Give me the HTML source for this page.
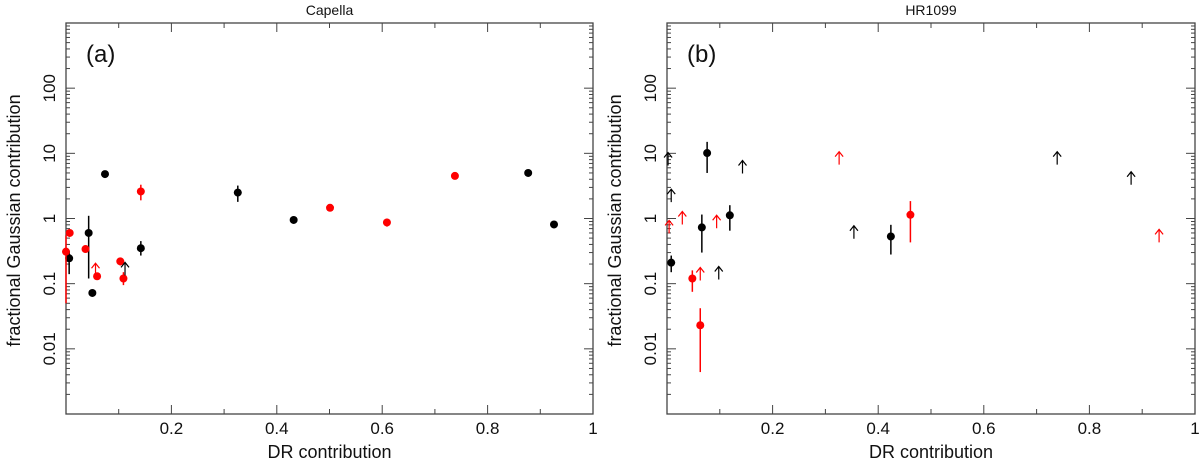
<!DOCTYPE html>
<html><head><meta charset="utf-8"><style>
html,body{margin:0;padding:0;background:#fff;}
svg{display:block;font-family:"Liberation Sans",Arial,sans-serif;}
</style></head><body>
<svg id="chart" width="1200" height="463" viewBox="0 0 1200 463"></svg>
<script>
// Panel (a) Capella
const capBlackX=[0.006,0.043,0.050,0.074,0.142,0.326,0.432,0.877,0.926];
const capBlackY=[0.245,0.6,0.072,4.8,0.35,2.5,0.95,5.0,0.81];
const capBlackLo=[0.14,0.12,0.072,4.8,0.27,1.8,0.95,5.0,0.81];
const capBlackHi=[0.32,1.1,0.072,4.8,0.45,3.2,0.95,5.0,0.81];
const capRedX=[0.0,0.007,0.037,0.059,0.103,0.109,0.142,0.501,0.609,0.738];
const capRedY=[0.31,0.6,0.34,0.13,0.22,0.12,2.6,1.46,0.87,4.5];
const capRedLo=[0.05,0.6,0.30,0.13,0.19,0.095,1.9,1.46,0.75,4.5];
const capRedHi=[0.55,0.6,0.38,0.13,0.25,0.15,3.3,1.46,1.0,4.5];
const capBlackArrX=[0.112];
const capBlackArrY=[0.134];
const capRedArrX=[0.056];
const capRedArrY=[0.13];
// Panel (b) HR1099
const hrBlackX=[0.008,0.066,0.076,0.119,0.424];
const hrBlackY=[0.21,0.73,10.1,1.12,0.53];
const hrBlackLo=[0.15,0.3,5,0.65,0.28];
const hrBlackHi=[0.27,1.15,15,1.6,0.8];
const hrRedX=[0.048,0.063,0.461];
const hrRedY=[0.12,0.023,1.14];
const hrRedLo=[0.075,0.0044,0.43];
const hrRedHi=[0.16,0.042,1.85];
const hrBlackArrX=[0.002,0.008,0.143,0.098,0.354,0.739,0.879];
const hrBlackArrY=[6.5,1.78,4.9,0.116,0.49,6.7,3.3];
const hrRedArrX=[0.004,0.029,0.094,0.063,0.326,0.932];
const hrRedArrY=[0.59,0.81,0.71,0.112,6.7,0.43];
const xTicks=[0.2,0.4,0.6,0.8,1];
const xTickLabels=["0.2","0.4","0.6","0.8","1"];
const yTicks=[0.01,0.1,1,10,100];
const yTickLabels=["0.01","0.1","1","10","100"];

const NS="http://www.w3.org/2000/svg";
const svg=document.getElementById('chart');
function mk(tag,attrs,parent,text){const e=document.createElementNS(NS,tag);for(const k in attrs)e.setAttribute(k,attrs[k]);if(text!==undefined)e.textContent=text;(parent||svg).appendChild(e);return e;}
const TOP=23,BOT=414;
function panel(x0,x1,title,label,d){
  const g=mk('g',{});
  
  
  const sx=v=>x0+v*(x1-x0);
  const sy=v=>BOT-(Math.log10(v)+3)/6*(BOT-TOP);
  const fr=mk('rect',{x:x0,y:TOP,width:x1-x0,height:BOT-TOP,fill:'none',stroke:'#444','stroke-width':1.3},g);
  
  
  const tk=mk('g',{stroke:'#444','stroke-width':1},g);
  
  
  for(let i=1;i<10;i++){const v=i/10,x=sx(v),L=(i%2==0)?9:5;
    mk('line',{x1:x,y1:BOT,x2:x,y2:BOT-L},tk);mk('line',{x1:x,y1:TOP,x2:x,y2:TOP+L},tk);}
  for(let e=-3;e<3;e++){for(let m=1;m<10;m++){const v=m*Math.pow(10,e),y=sy(v),L=m==1?9:4;
    if(m==1&&e==-3)continue;
    mk('line',{x1:x0,y1:y,x2:x0+L,y2:y},tk);mk('line',{x1:x1,y1:y,x2:x1-L,y2:y},tk);}}
  xTicks.forEach((v,i)=>{const t=mk('text',{x:sx(v),y:434,'font-size':17,'text-anchor':'middle',fill:'#111'},g,xTickLabels[i]);
    
    });
  yTicks.forEach((v,i)=>{const y=sy(v);const t=mk('text',{x:0,y:0,'font-size':17,'text-anchor':'middle',fill:'#111',transform:`translate(${x0-11},${y}) rotate(-90)`},g,yTickLabels[i]);
    
    });
  const xt=mk('text',{x:(x0+x1)/2,y:458,'font-size':18,'text-anchor':'middle',fill:'#111'},g,'DR contribution');
  
  
  const yt=mk('text',{x:0,y:0,'font-size':18,'text-anchor':'middle',fill:'#111',transform:`translate(${x0-46},${(TOP+BOT)/2+2}) rotate(-90)`},g,'fractional Gaussian contribution');
  
  
  const tt=mk('text',{x:(x0+x1)/2,y:15,'font-size':14,'text-anchor':'middle',fill:'#111'},g,title);
  
  
  const pl=mk('text',{x:x0+20,y:62,'font-size':24,fill:'#111'},g,label);
  
  
  function pts(X,Y,Lo,Hi,col,name){X.forEach((v,i)=>{const x=sx(v);
    const e=mk('line',{x1:x,y1:sy(Lo[i]),x2:x,y2:sy(Hi[i]),stroke:col,'stroke-width':1.5},g);
    
    
    const c=mk('circle',{cx:x,cy:sy(Y[i]),r:4,fill:col},g);
    
    });}
  function arr(X,Y,col,name){X.forEach((v,i)=>{const x=sx(v),y=sy(Y[i]);
    const a=mk('path',{d:`M${x},${y} L${x},${y-13} M${x-4},${y-8} L${x},${y-13} L${x+4},${y-8}`,stroke:col,'stroke-width':1.2,fill:'none'},g);
    
    });}
  pts(d.bx,d.by,d.blo,d.bhi,'#000','black');
  pts(d.rx,d.ry,d.rlo,d.rhi,'#f00','red');
  arr(d.bax,d.bay,'#000','black');
  arr(d.rax,d.ray,'#f00','red');
}
panel(66,593,'Capella','(a)',{bx:capBlackX,by:capBlackY,blo:capBlackLo,bhi:capBlackHi,rx:capRedX,ry:capRedY,rlo:capRedLo,rhi:capRedHi,bax:capBlackArrX,bay:capBlackArrY,rax:capRedArrX,ray:capRedArrY});
panel(667,1195,'HR1099','(b)',{bx:hrBlackX,by:hrBlackY,blo:hrBlackLo,bhi:hrBlackHi,rx:hrRedX,ry:hrRedY,rlo:hrRedLo,rhi:hrRedHi,bax:hrBlackArrX,bay:hrBlackArrY,rax:hrRedArrX,ray:hrRedArrY});
</script>
</body></html>
